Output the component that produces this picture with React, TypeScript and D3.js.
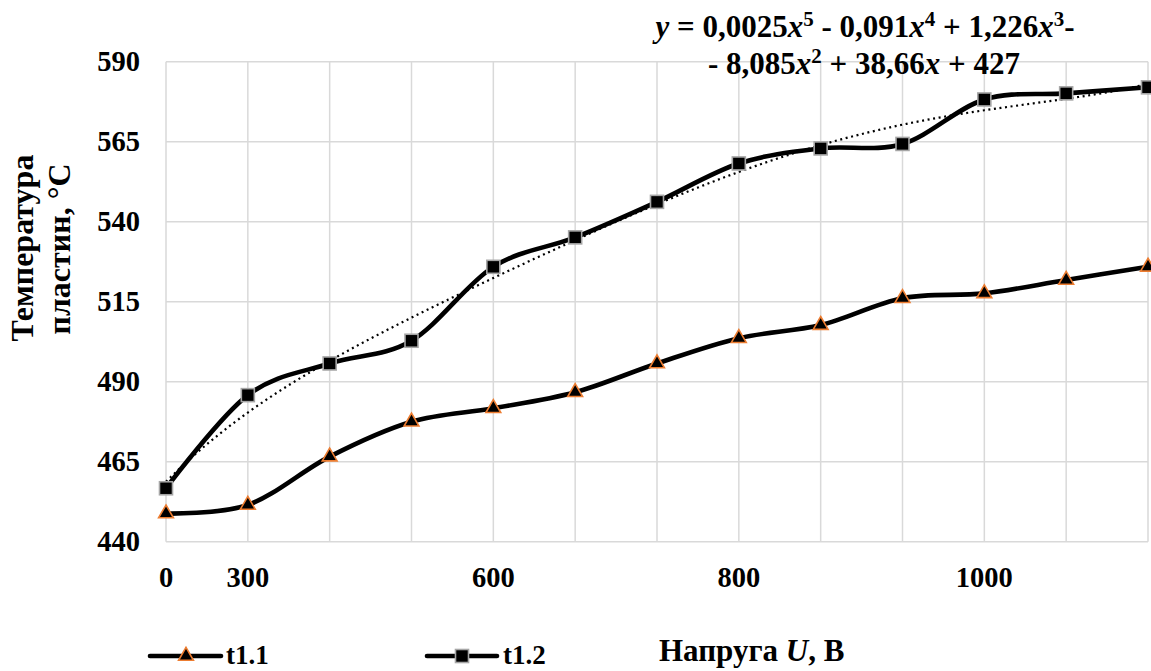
import React from 'react';
import * as d3 from 'd3';

// x categories (13 points), only some carry a label
const categories = ['0', '300', '', '', '600', '', '', '800', '', '', '1000', '', ''];
const t11 = [448.8, 451.5, 466.6, 477.5, 481.7, 486.7, 495.7, 503.6, 507.7, 516.1, 517.6, 521.8, 525.9];
const t12 = [456.7, 485.8, 495.7, 502.8, 525.9, 535.1, 546.2, 558.2, 562.9, 564.3, 578.2, 580.1, 582.0];
const yTicks = [440, 465, 490, 515, 540, 565, 590];

const W = 1151;
const H = 671;
const plot = { left: 166, right: 1148, top: 61.7, bottom: 541.7 };
const FONT = '"Liberation Serif", "Times New Roman", serif';

// least squares polynomial fit (what the spreadsheet trendline does)
function polyFit(xs: number[], ys: number[], deg: number) {
  const n = deg + 1;
  const A: number[][] = [];
  for (let i = 0; i < n; i++) {
    A.push(new Array(n + 1).fill(0));
    for (let j = 0; j < n; j++) A[i][j] = d3.sum(xs, x => Math.pow(x, i + j));
    A[i][n] = d3.sum(xs, (x, k) => ys[k] * Math.pow(x, i));
  }
  for (let c = 0; c < n; c++) {
    let p = c;
    for (let r = c + 1; r < n; r++) if (Math.abs(A[r][c]) > Math.abs(A[p][c])) p = r;
    [A[c], A[p]] = [A[p], A[c]];
    for (let r = 0; r < n; r++) {
      if (r === c) continue;
      const f = A[r][c] / A[c][c];
      for (let k = c; k <= n; k++) A[r][k] -= f * A[c][k];
    }
  }
  return A.map((row, i) => row[n] / row[i]);
}

const App = () => {
  const x = d3.scalePoint<number>()
    .domain(d3.range(categories.length))
    .range([plot.left, plot.right]);
  const y = d3.scaleLinear().domain([440, 590]).range([plot.bottom, plot.top]);

  const line = d3.line<number>()
    .x((_, i) => x(i) as number)
    .y(d => y(d))
    .curve(d3.curveCatmullRom.alpha(0));

  // trendline for t1.2, x = 1..13 as in the spreadsheet
  const xs = t12.map((_, i) => i + 1);
  const coef = polyFit(xs, t12, 5);
  const evalPoly = (v: number) => coef.reduce((s, c, i) => s + c * Math.pow(v, i), 0);
  const trendPts = d3.range(0, categories.length - 1 + 0.001, 0.05).map(t => [
    x(0)! + (x(1)! - x(0)!) * t,
    y(evalPoly(t + 1)),
  ] as [number, number]);
  const trend = d3.line()(trendPts);

  const tri = d3.symbol().type(d3.symbolTriangle).size(95)();

  return (
    <svg width={W} height={H} style={{ position: 'absolute', left: 0, top: 0, background: '#fff' }}
      fontFamily={FONT} fontWeight="bold">
      {/* grid */}
      {yTicks.map(t => (
        <line key={'h' + t} x1={plot.left} x2={plot.right} y1={y(t)} y2={y(t)} stroke="#d9d9d9" strokeWidth={1.5} />
      ))}
      {categories.map((_, i) => (
        <line key={'v' + i} x1={x(i)} x2={x(i)} y1={plot.top} y2={plot.bottom} stroke="#d9d9d9" strokeWidth={1.5} />
      ))}

      {/* y tick labels */}
      {yTicks.map(t => (
        <text key={'yl' + t} x={140} y={y(t)} dy="0.34em" textAnchor="end" fontSize={28.5}>{t}</text>
      ))}
      {/* x tick labels */}
      {categories.map((c, i) => c ? (
        <text key={'xl' + i} x={x(i)} y={587} textAnchor="middle" fontSize={28.5}>{c}</text>
      ) : null)}

      {/* trendline */}
      <path d={trend || ''} fill="none" stroke="#000" strokeWidth={2.2} strokeDasharray="2 3.6" />

      {/* series */}
      <path d={line(t11) || ''} fill="none" stroke="#000" strokeWidth={4.6} />
      <path d={line(t12) || ''} fill="none" stroke="#000" strokeWidth={4.6} />

      {t11.map((v, i) => (
        <path key={'m1' + i} d={tri || ''} transform={`translate(${x(i)},${y(v)})`}
          fill="#000" stroke="#ed7d31" strokeWidth={1.6} />
      ))}
      {t12.map((v, i) => (
        <rect key={'m2' + i} x={(x(i) as number) - 6.5} y={y(v) - 6.5} width={13} height={13}
          fill="#000" stroke="#a6a6a6" strokeWidth={1.6} />
      ))}

      {/* equation */}
      <text x={865} y={37} textAnchor="middle" fontSize={31}>
        <tspan fontStyle="italic">y</tspan> = 0,0025<tspan fontStyle="italic">x</tspan>
        <tspan dy={-11} fontSize={21}>5</tspan><tspan dy={11}> - 0,091</tspan>
        <tspan fontStyle="italic">x</tspan><tspan dy={-11} fontSize={21}>4</tspan>
        <tspan dy={11}> + 1,226</tspan><tspan fontStyle="italic">x</tspan>
        <tspan dy={-11} fontSize={21}>3</tspan><tspan dy={11}>-</tspan>
      </text>
      <text x={864} y={74} textAnchor="middle" fontSize={31}>
        - 8,085<tspan fontStyle="italic">x</tspan><tspan dy={-11} fontSize={21}>2</tspan>
        <tspan dy={11}> + 38,66</tspan><tspan fontStyle="italic">x</tspan> + 427
      </text>

      {/* y axis title */}
      <text transform="translate(33,248) rotate(-90)" textAnchor="middle" fontSize={32}>Температура</text>
      <text transform="translate(70,249) rotate(-90)" textAnchor="middle" fontSize={32}>пластин, °С</text>

      {/* x axis title */}
      <text x={659} y={661} fontSize={31}>
        Напруга <tspan fontStyle="italic">U</tspan>, В
      </text>

      {/* legend */}
      <g transform="translate(150,656)">
        <line x1={0} x2={71} y1={0} y2={0} stroke="#000" strokeWidth={4.6} strokeLinecap="round" />
        <path d={tri || ''} transform="translate(36,0)" fill="#000" stroke="#ed7d31" strokeWidth={1.6} />
        <text x={76} y={8} fontSize={27}>t1.1</text>
      </g>
      <g transform="translate(427,656)">
        <line x1={0} x2={70} y1={0} y2={0} stroke="#000" strokeWidth={4.6} strokeLinecap="round" />
        <rect x={28.5} y={-6.5} width={13} height={13} fill="#000" stroke="#a6a6a6" strokeWidth={1.6} />
        <text x={76} y={8} fontSize={27}>t1.2</text>
      </g>
    </svg>
  );
};

export default App;
